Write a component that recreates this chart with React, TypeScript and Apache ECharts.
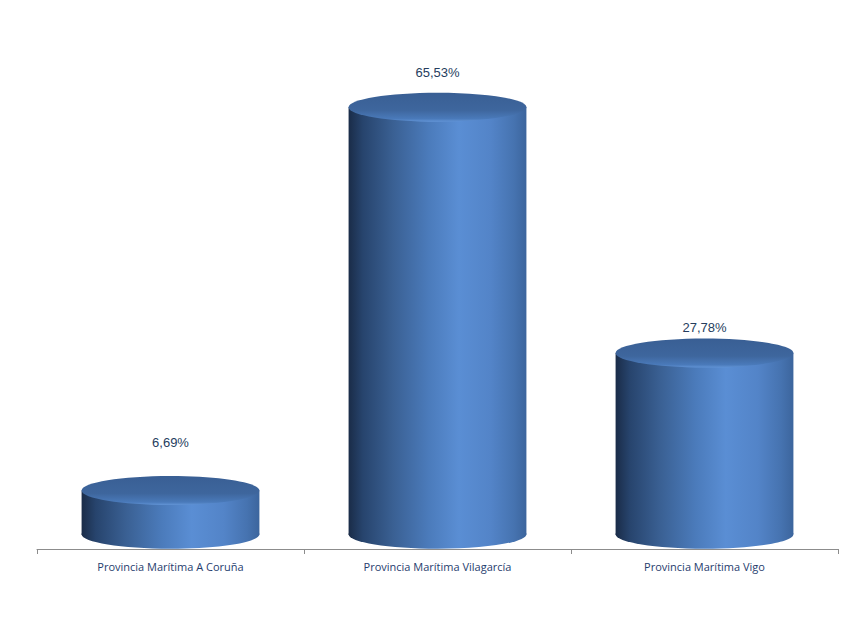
import React, { useEffect, useRef } from "react";
import * as echarts from "echarts";

const categories = [
  "Provincia Marítima A Coruña",
  "Provincia Marítima Vilagarcía",
  "Provincia Marítima Vigo",
];
const values = [6.69, 65.53, 27.78];
const valueLabels = ["6,69%", "65,53%", "27,78%"];
const labelGap = [48, 35, 26];

const bodyGradient = () => ({
  type: "linear",
  x: 0,
  y: 0,
  x2: 1,
  y2: 0,
  colorStops: [
    { offset: 0, color: "#1a2c48" },
    { offset: 0.08, color: "#27446d" },
    { offset: 0.25, color: "#3a6093" },
    { offset: 0.45, color: "#4b7bbb" },
    { offset: 0.62, color: "#5a8ed4" },
    { offset: 0.8, color: "#5384c8" },
    { offset: 0.93, color: "#4673b0" },
    { offset: 1, color: "#3c659d" },
  ],
});

const topGradient = () => ({
  type: "linear",
  x: 0,
  y: 0,
  x2: 0,
  y2: 1,
  colorStops: [
    { offset: 0, color: "#395f94" },
    { offset: 0.6, color: "#3e669d" },
    { offset: 0.9, color: "#4a7aba" },
    { offset: 1, color: "#6294d6" },
  ],
});

export default function App() {
  const ref = useRef<HTMLDivElement>(null);
  useEffect(() => {
    if (!ref.current) return;
    const chart = echarts.init(ref.current, null, { renderer: "svg" });
    chart.setOption({
      animation: false,
      backgroundColor: "#ffffff",
      grid: { left: 37, right: 24, top: 78, bottom: 80 },
      xAxis: {
        type: "category",
        data: categories,
        boundaryGap: true,
        axisLine: { onZero: false, lineStyle: { color: "#8c8c8c", width: 1 } },
        axisTick: { show: true, length: 5, lineStyle: { color: "#8c8c8c" } },
        axisLabel: {
          color: "#1f3d6e",
          fontSize: 11,
          fontFamily: "Open Sans",
          margin: 12,
        },
      },
      yAxis: {
        type: "value",
        min: -2.28,
        max: 70,
        show: false,
        splitLine: { show: false },
      },
      series: [
        {
          type: "custom",
          data: values.map((v, i) => [i, v]),
          renderItem: (params: any, api: any) => {
            const i = api.value(0);
            const v = api.value(1);
            const top = api.coord([i, v]);
            const base = api.coord([i, 0]);
            const band = api.size([1, 0])[0];
            const rx = band * 0.333;
            const ry = 14.5;
            const cx = top[0];
            const yTop = top[1];
            const y0 = base[1];
            return {
              type: "group",
              children: [
                {
                  type: "ellipse",
                  shape: { cx, cy: y0, rx, ry },
                  style: { fill: bodyGradient() },
                },
                {
                  type: "rect",
                  shape: { x: cx - rx, y: yTop, width: rx * 2, height: y0 - yTop },
                  style: { fill: bodyGradient() },
                },
                {
                  type: "ellipse",
                  shape: { cx, cy: yTop, rx, ry },
                  style: { fill: topGradient() },
                },
                {
                  type: "text",
                  x: cx,
                  y: yTop - labelGap[params.dataIndex],
                  style: {
                    text: valueLabels[params.dataIndex],
                    fill: "#253d5e",
                    fontSize: 13,
                    fontFamily: "Liberation Sans",
                    align: "center",
                    verticalAlign: "middle",
                  },
                },
              ],
            };
          },
        },
      ],
    });
    return () => chart.dispose();
  }, []);
  return <div ref={ref} style={{ width: 862, height: 629, position: "absolute", left: 0, top: 0 }} />;
}
